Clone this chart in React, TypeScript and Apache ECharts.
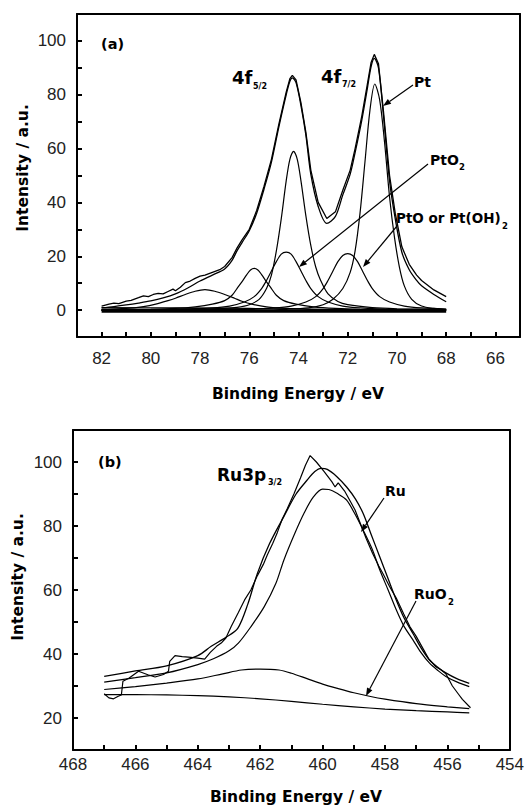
import React, { useEffect, useRef } from "react";
import * as echarts from "echarts";

type P = [number, number];

// ---------- Panel (a): Pt 4f ----------
const ptXTicks = [66, 68, 70, 72, 74, 76, 78, 80, 82];
const ptYTicks = [0, 20, 40, 60, 80, 100];

const ptRawData: P[] = [
  [82.0, 1.5], [81.7, 2.2], [81.5, 2.6], [81.3, 2.4], [81.0, 3.3], [80.8, 3.6], [80.5, 4.6], [80.3, 5.3],
  [80.1, 5.0], [79.9, 5.8], [79.7, 6.2], [79.5, 6.0], [79.3, 6.9], [79.1, 7.8], [79.0, 7.2], [78.8, 8.5],
  [78.6, 10.2], [78.4, 10.8], [78.2, 11.8], [78.0, 12.6], [77.8, 13.0], [77.5, 14.0], [77.2, 15.0], [77.0, 16.2],
  [76.7, 19.5], [76.5, 23], [76.3, 26], [76.0, 30], [75.7, 37], [75.4, 46], [75.1, 56], [74.8, 69],
  [74.5, 81], [74.35, 86], [74.25, 87.2], [74.1, 85.5], [73.9, 77], [73.7, 66], [73.5, 52], [73.2, 40],
  [72.85, 34], [72.5, 36.5], [72.2, 44.5], [71.9, 52], [71.7, 60], [71.43, 72], [71.2, 84], [71.05, 92],
  [70.92, 95], [70.75, 91.5], [70.55, 74], [70.3, 50], [70.07, 36], [69.8, 23.5], [69.5, 17], [69.2, 13],
  [69.0, 11], [68.5, 7.5], [68.0, 5],
];

const ptFitEnvelope: P[] = [
  [82.0, 0.8], [81.5, 1.3], [81.0, 1.9], [80.5, 2.6], [80.0, 3.4], [79.5, 4.5], [79.0, 6.0], [78.5, 8.2],
  [78.0, 10.8], [77.5, 13], [77.0, 15.3], [76.7, 18.5], [76.5, 22], [76.3, 25], [76.0, 29.5], [75.7, 36],
  [75.4, 45], [75.1, 55], [74.8, 68], [74.5, 80], [74.35, 85], [74.25, 86.3], [74.1, 84.5], [73.9, 76],
  [73.7, 65], [73.5, 50.5], [73.2, 38.5], [72.85, 32.2], [72.5, 34.8], [72.2, 42.8], [71.9, 50.5], [71.7, 58.5],
  [71.43, 70.5], [71.2, 82.5], [71.05, 90.5], [70.92, 93.5], [70.75, 90], [70.55, 72.5], [70.3, 48], [70.07, 34],
  [69.8, 21.5], [69.5, 15], [69.2, 11], [69.0, 9], [68.5, 5.8], [68.0, 3.1],
];

const ptMetal72: P[] = [
  [82, 0], [76, 0.1], [75.5, 0.1], [74.5, 0.3], [73.6, 0.8], [73.0, 2], [72.6, 4], [72.2, 8], [71.9, 14],
  [71.7, 22], [71.5, 36], [71.3, 55], [71.1, 74], [70.9, 84], [70.7, 78], [70.5, 62], [70.3, 42], [70.1, 27],
  [69.9, 16], [69.7, 9], [69.4, 4], [69.0, 1.5], [68.5, 0.6], [68, 0.3],
];

const ptMetal52: P[] = [
  [82, 0], [78, 0.3], [77, 0.6], [76.5, 1], [76.0, 2], [75.6, 4], [75.3, 8], [75.1, 13], [74.9, 22],
  [74.7, 34], [74.5, 48], [74.35, 56], [74.2, 59], [74.05, 56], [73.9, 48], [73.7, 35], [73.5, 24],
  [73.3, 16], [73.1, 11], [72.8, 6], [72.4, 3.2], [72.0, 2], [71.0, 0.9], [70.0, 0.5], [68, 0.2],
];

const ptOxide72: P[] = [
  [82, 0], [76, 0.3], [75.0, 0.8], [74.3, 1.5], [73.7, 3], [73.3, 5], [73.0, 8], [72.8, 11], [72.6, 14.5],
  [72.4, 18], [72.2, 20.3], [72.0, 21], [71.8, 20.3], [71.6, 18], [71.4, 14.5], [71.2, 11], [71.0, 8],
  [70.7, 5], [70.3, 3], [69.7, 1.5], [69.0, 0.8], [68, 0.4],
];

const ptDioxide72: P[] = [
  [82, 0], [79, 0.3], [77.5, 0.8], [76.8, 1.5], [76.2, 3], [75.8, 5], [75.5, 8], [75.3, 11], [75.1, 14.5],
  [74.9, 18], [74.7, 20.8], [74.5, 21.5], [74.3, 20.8], [74.1, 18], [73.9, 14.5], [73.7, 11], [73.5, 8],
  [73.2, 5], [72.8, 3], [72.2, 1.5], [71.5, 0.8], [70.5, 0.4], [68, 0.1],
];

const ptOxide52: P[] = [
  [82, 0], [80, 0.3], [79.0, 0.6], [78.2, 1.2], [77.5, 2.2], [77.0, 3.5], [76.7, 5.5], [76.5, 8], [76.3, 10.5],
  [76.1, 13.2], [75.95, 14.9], [75.8, 15.5], [75.65, 14.9], [75.5, 13.2], [75.3, 10.5], [75.1, 8], [74.9, 5.5],
  [74.6, 3.5], [74.1, 2.2], [73.4, 1.2], [72.5, 0.6], [71.5, 0.3], [68, 0],
];

const ptDioxide52: P[] = [
  [82, 0.3], [81.0, 0.6], [80.3, 1.3], [79.8, 2.2], [79.3, 3.5], [79.0, 4.4], [78.6, 5.8], [78.2, 7], [77.8, 7.6],
  [77.4, 7], [77.0, 5.8], [76.6, 4.4], [76.3, 3.3], [75.9, 2.2], [75.3, 1.2], [74.5, 0.6], [73.5, 0.3], [72, 0.1], [68, 0],
];

const ptBackground: P[] = [[82, 0.9], [79, 0.8], [76, 0.6], [74, 0.4], [72, 0.2], [70, 0.1], [68, 0]];
const ptBaseline: P[] = [[82, -0.4], [68, -0.4]];

// ---------- Panel (b): Ru 3p ----------
const ruXTicks = [454, 456, 458, 460, 462, 464, 466, 468];
const ruYTicks = [20, 40, 60, 80, 100];

const ruRawData: P[] = [
  [467.0, 27.6], [466.85, 26.3], [466.7, 26.0], [466.55, 26.8], [466.45, 27.2], [466.4, 31.5], [466.2, 32.5],
  [465.9, 34.6], [465.6, 33.5], [465.37, 32.8], [465.1, 33.6], [464.94, 34.6], [464.9, 37.7], [464.73, 39.5],
  [464.5, 39.2], [464.3, 39], [464.0, 38.7], [463.78, 38.4], [463.6, 40.5], [463.4, 42.4], [463.25, 43.4],
  [463.1, 45], [462.93, 48.6], [462.7, 53], [462.5, 56.9], [462.3, 60], [462.09, 64.5], [461.9, 68],
  [461.77, 71], [461.6, 74.5], [461.45, 78], [461.3, 82], [461.13, 85.5], [460.92, 90], [460.71, 95],
  [460.55, 99], [460.4, 102], [460.2, 100], [459.95, 97], [459.7, 93.8], [459.6, 92.2], [459.5, 93.5],
  [459.3, 91], [459.1, 87.5], [458.96, 85], [458.8, 81], [458.6, 76], [458.4, 71.5], [458.2, 67.5],
  [458.06, 65], [457.85, 61], [457.64, 57.5], [457.4, 52.5], [457.2, 48.5], [457.0, 45.5], [456.8, 42],
  [456.6, 38.5], [456.37, 36], [456.2, 35], [456.05, 33.8], [455.84, 30], [455.65, 27.5], [455.52, 25.8],
  [455.26, 23.2],
];

const ruFitEnvelope: P[] = [
  [467, 33], [466, 34.7], [465, 36.3], [464, 39.5], [463.57, 42.4], [463.1, 45.2], [462.72, 48], [462.4, 55.5],
  [462.09, 65.2], [461.7, 74.5], [461.24, 83], [460.85, 90], [460.5, 94.3], [460.25, 97], [460.05, 98],
  [459.85, 97.7], [459.55, 95.5], [459.23, 92.2], [458.95, 88.5], [458.7, 83.9], [458.45, 77.5], [458.17, 70.4],
  [457.9, 63.5], [457.64, 56.9], [457.4, 51.5], [457.11, 46.5], [456.85, 42], [456.58, 38.2], [456.3, 35.8],
  [456.05, 34.1], [455.7, 32.3], [455.3, 30.8],
];

const ruMetal: P[] = [
  [467, 31.2], [466, 32.6], [465, 34.1], [464, 36.7], [463.5, 38.5], [463, 41], [462.7, 43.4], [462.3, 48.5],
  [461.87, 54.8], [461.5, 62], [461.24, 69.4], [460.9, 77.5], [460.6, 83.9], [460.3, 89], [460, 91.5],
  [459.8, 91.4], [459.5, 90], [459.23, 88.1], [458.95, 83.5], [458.7, 78.7], [458.4, 72.5], [458.17, 66.3],
  [457.9, 60], [457.64, 53.8], [457.4, 48.8], [457.11, 44.5], [456.85, 40.5], [456.58, 37.2], [456.3, 34.8],
  [456.05, 33], [455.7, 31.3], [455.3, 29.8],
];

const ruDioxide: P[] = [
  [467, 28.9], [466, 29.8], [465, 30.9], [464, 32.2], [463.2, 33.8], [462.6, 35], [462, 35.3], [461.4, 35],
  [461, 34], [460.5, 32.3], [460, 30.6], [459.5, 29.2], [459, 27.9], [458.5, 26.8], [458, 25.9], [457, 24.5],
  [456, 23.5], [455.3, 22.9],
];

const ruBackground: P[] = [
  [467, 27.3], [466, 27.3], [465, 27.2], [464, 27], [463, 26.6], [462, 26], [461, 25.2], [460, 24.3],
  [459, 23.5], [458, 22.8], [457, 22.3], [456, 21.9], [455.3, 21.6],
];

const TICK_FONT = "'Liberation Sans', Arial, sans-serif";
const BOLD_FONT = "'DejaVu Sans', 'Liberation Sans', sans-serif";

const GRIDS = [
  { left: 77, top: 14, width: 443, height: 323 },
  { left: 73, top: 430, width: 443, height: 320 },
];

const AXIS_LINE = { show: true, onZero: false, lineStyle: { color: "#000", width: 2 } };

// main axis: frame line, every-unit inward ticks (interval counted from min), labels only at given values
function mainAxis(grid: number, dim: "x" | "y", min: number, max: number, interval: number, labels: number[], margin: number): any {
  return {
    gridIndex: grid,
    type: "value",
    min,
    max,
    interval,
    inverse: dim === "x",
    position: dim === "x" ? "bottom" : "left",
    splitLine: { show: false },
    axisLine: AXIS_LINE,
    axisTick: { show: true, inside: true, length: 5, lineStyle: { color: "#000", width: 2 } },
    axisLabel: {
      show: true,
      margin,
      fontFamily: TICK_FONT,
      fontSize: 17,
      color: "#222",
      formatter: (v: number) => (labels.some((l) => Math.abs(l - v) < 1e-6) ? String(Math.round(v)) : ""),
    },
  };
}

// opposite frame side (top / right): line only
function frameAxis(grid: number, dim: "x" | "y", min: number, max: number): any {
  return {
    gridIndex: grid,
    type: "value",
    min,
    max,
    inverse: dim === "x",
    position: dim === "x" ? "top" : "right",
    splitLine: { show: false },
    axisLine: AXIS_LINE,
    axisTick: { show: false },
    axisLabel: { show: false },
  };
}

function line(data: P[], gi: number, width = 1.2, smooth: number | boolean = 0.3): any {
  return {
    type: "line",
    xAxisIndex: gi * 2,
    yAxisIndex: gi * 2,
    data,
    showSymbol: false,
    symbol: "none",
    smooth,
    silent: true,
    lineStyle: { color: "#000", width },
    z: 3,
  };
}

function txt(text: string, x: number, y: number, size: number, extra: any = {}): any {
  return {
    type: "text",
    x,
    y,
    silent: true,
    style: {
      text,
      fill: "#000",
      font: `bold ${size}px ${BOLD_FONT}`,
      textVerticalAlign: "middle",
      ...extra,
    },
    z: 10,
  };
}

function arrow(x1: number, y1: number, x2: number, y2: number): any[] {
  const dx = x2 - x1;
  const dy = y2 - y1;
  const len = Math.sqrt(dx * dx + dy * dy);
  const ux = dx / len;
  const uy = dy / len;
  const hl = 8;
  const hw = 3;
  const bx = x2 - ux * hl;
  const by = y2 - uy * hl;
  return [
    {
      type: "line",
      silent: true,
      shape: { x1, y1, x2: bx, y2: by },
      style: { stroke: "#000", lineWidth: 1.2 },
      z: 10,
    },
    {
      type: "polygon",
      silent: true,
      shape: {
        points: [
          [x2, y2],
          [bx - uy * hw, by + ux * hw],
          [bx + uy * hw, by - ux * hw],
        ],
      },
      style: { fill: "#000" },
      z: 10,
    },
  ];
}

export default function App() {
  const ref = useRef<HTMLDivElement>(null);

  useEffect(() => {
    if (!ref.current) return;
    const chart = echarts.init(ref.current, undefined, { renderer: "svg" });

    const series = [
      line(ptBaseline, 0, 3, false),
      line(ptBackground, 0, 1.2),
      line(ptDioxide52, 0),
      line(ptOxide52, 0),
      line(ptDioxide72, 0),
      line(ptOxide72, 0),
      line(ptMetal52, 0),
      line(ptMetal72, 0),
      line(ptFitEnvelope, 0, 1.3),
      line(ptRawData, 0, 1.3, false),
      line(ruBackground, 1, 1.2),
      line(ruDioxide, 1, 1.2),
      line(ruMetal, 1, 1.2),
      line(ruFitEnvelope, 1, 1.3),
      line(ruRawData, 1, 1.2, false),
    ];

    const graphic: any[] = [
      txt("Binding Energy / eV", 298, 394, 15.5, { textAlign: "center" }),
      txt("Binding Energy / eV", 296, 797, 15.5, { textAlign: "center" }),
      { ...txt("Intensity / a.u.", 23, 168, 15.5, { textAlign: "center" }), rotation: Math.PI / 2 },
      { ...txt("Intensity / a.u.", 18, 577, 15.5, { textAlign: "center" }), rotation: Math.PI / 2 },
      txt("(a)", 101, 44, 14.5),
      txt("4f", 232, 77, 18),
      txt("5/2", 253, 86, 8),
      txt("4f", 321, 76, 18),
      txt("7/2", 342, 84, 8),
      txt("Pt", 414, 82, 14),
      txt("PtO", 430, 160, 14),
      txt("2", 459, 167, 8.5),
      txt("PtO or Pt(OH)", 396, 218, 13.5),
      txt("2", 502, 226, 8.5),
      ...arrow(413, 85, 383, 106),
      ...arrow(428, 164, 299, 267),
      ...arrow(397, 226, 363, 267),
      txt("(b)", 98, 462, 14.5),
      txt("Ru3p", 217, 475, 17),
      txt("3/2", 268, 482, 8),
      txt("Ru", 385, 491, 14),
      txt("RuO", 414, 594, 14),
      txt("2", 448, 602, 8.5),
      ...arrow(384, 498, 361, 532),
      ...arrow(416, 601, 366, 696),
    ];

    chart.setOption({
      animation: false,
      backgroundColor: "#fff",
      grid: GRIDS.map((g) => ({ left: g.left, top: g.top, width: g.width, height: g.height, show: false })),
      xAxis: [
        mainAxis(0, "x", 65, 83, 1, ptXTicks, 13),
        frameAxis(0, "x", 65, 83),
        mainAxis(1, "x", 454, 468, 1, ruXTicks, 6),
        frameAxis(1, "x", 454, 468),
      ],
      yAxis: [
        mainAxis(0, "y", -10, 110, 10, ptYTicks, 11),
        frameAxis(0, "y", -10, 110),
        mainAxis(1, "y", 10, 110, 10, ruYTicks, 11),
        frameAxis(1, "y", 10, 110),
      ],
      series,
      graphic,
    });

    return () => chart.dispose();
  }, []);

  return (
    <div
      ref={ref}
      style={{ position: "fixed", left: 0, top: 0, width: 527, height: 809, background: "#fff" }}
    />
  );
}
